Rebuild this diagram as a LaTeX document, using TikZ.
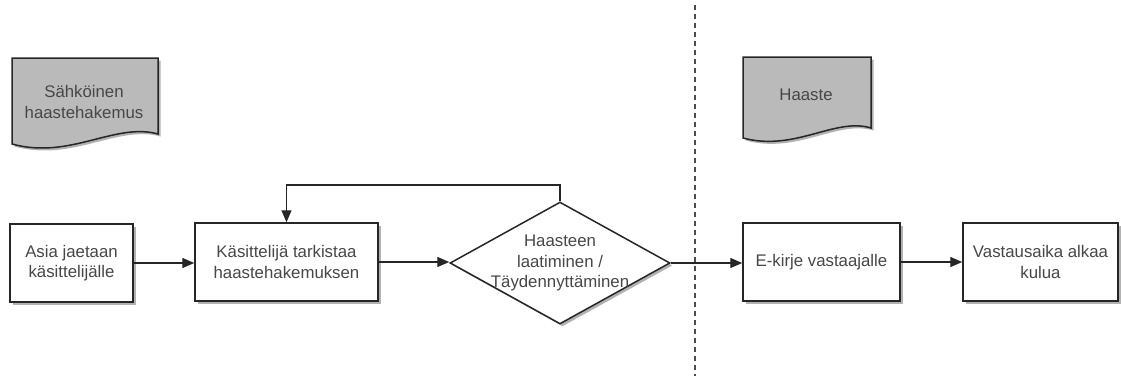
\documentclass[tikz,border=0pt]{standalone}
\usepackage{fontspec}
\setmainfont{Liberation Sans}
\usetikzlibrary{arrows.meta,shapes.geometric,shadows}
\begin{document}
\begin{tikzpicture}[x=1pt,y=-1pt,
  shd/.style={drop shadow={shadow xshift=2.5pt,shadow yshift=-2.5pt,opacity=0.3,fill=black}},
  proc/.style={draw=black!85,line width=1.5pt,fill=white,shd,minimum height=78pt,inner sep=0pt},
  lbl/.style={font=\fontsize{16.8}{20.5}\selectfont,text=black!72,align=center},
  arr/.style={-{Triangle[length=12pt,width=10pt]},line width=1.4pt,draw=black!85},
  doc/.style={draw=black!85,line width=1.5pt,fill=black!27,shd},
]
\useasboundingbox (0,0) rectangle (1121,376);

% divider
\coordinate (dtop) at (695,5);
\coordinate (dbot) at (695,376);
\draw[black!70,line width=1.5pt,dash pattern=on 5pt off 4pt] (dtop) -- (dbot);

% documents
\path[doc] (12,58) -- (158,58) -- (158,134)
  .. controls (115,122) and (70,160) .. (12,144) -- cycle;
\node[lbl] (doc1) at (84,102) {Sähköinen\\haastehakemus};

\path[doc] (743,57) -- (871,57) -- (871,128)
  .. controls (835,117) and (795,152) .. (743,138) -- cycle;
\node[lbl] (doc2) at (806,95) {Haaste};

% process boxes
\node[proc,minimum width=123pt] (b1) at (71.5,263) {};
\node[lbl] at (b1) {Asia jaetaan\\käsittelijälle};
\node[proc,minimum width=183pt] (b2) at (286.5,262) {};
\node[lbl] at (b2) {Käsittelijä tarkistaa\\haastehakemuksen};
\node[draw=black!85,line width=1.5pt,fill=white,shd,diamond,minimum width=220pt,minimum height=122pt,inner sep=0pt] (d) at (560,263) {};
\node[lbl] at (d) {Haasteen\\laatiminen /\\Täydennyttäminen};
\node[proc,minimum width=157pt] (b3) at (821.5,262) {};
\node[lbl] at (b3) {E-kirje vastaajalle};
\node[proc,minimum width=155pt] (b4) at (1040.5,262) {};
\node[lbl] at (b4) {Vastausaika alkaa\\kulua};

% connectors
\draw[arr] (b1.east) -- (b2.west |- b1.east);
\draw[arr] (b2.east) -- (d.west |- b2.east);
\draw[arr] (d.east) -- (b3.west |- d.east);
\draw[arr] (b3.east) -- (b4.west);
\coordinate (fb) at (560,185);
\draw[arr] (d.north) -- (fb) -| (b2.north);
\end{tikzpicture}
\end{document}
